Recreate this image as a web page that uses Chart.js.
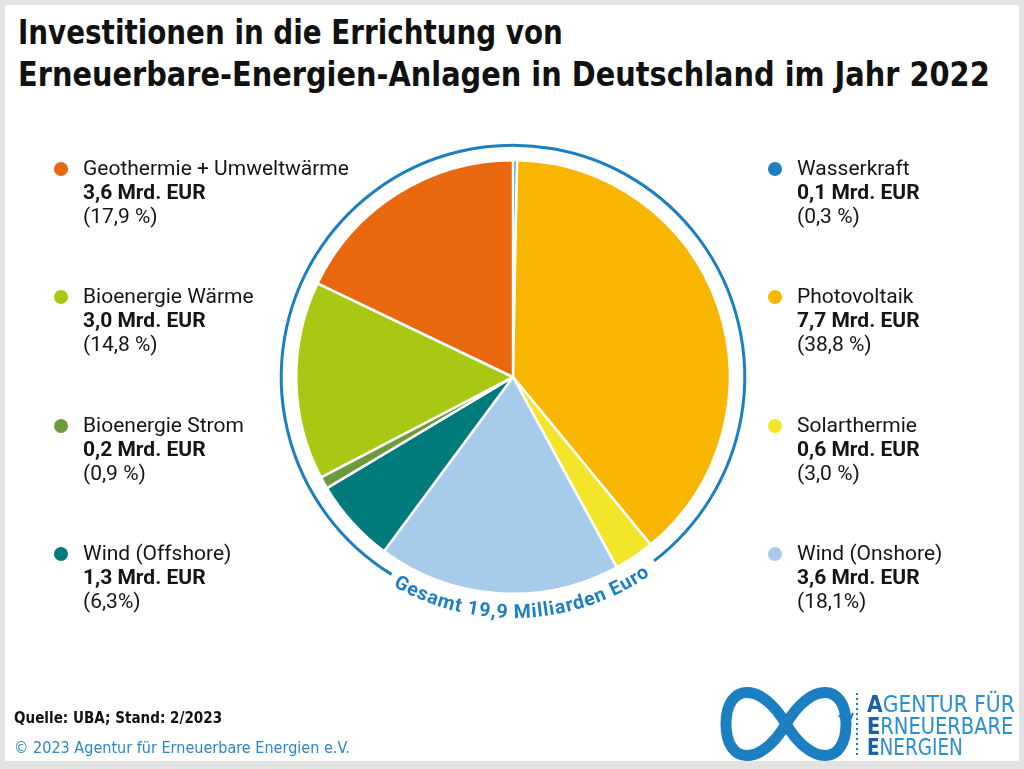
<!DOCTYPE html>
<html><head><meta charset="utf-8">
<script src="https://cdn.jsdelivr.net/npm/chart.js@4"></script>
<style>
html,body{margin:0;padding:0;}
body{width:1024px;height:769px;background:#e3e3e3;position:relative;overflow:hidden;font-family:Roboto,"Noto Sans",sans-serif;color:#151515;}
#frame{position:absolute;left:5px;top:5px;width:1014px;height:756px;background:#fff;}
.title{position:absolute;left:18px;font-family:"DejaVu Sans Condensed","DejaVu Sans",sans-serif;font-weight:bold;font-size:34px;line-height:40px;color:#111;white-space:nowrap;transform-origin:0 0;}
#pieBox{position:absolute;left:273px;top:137px;width:480px;height:480px;}
.leg{position:absolute;font-size:21px;line-height:24px;white-space:nowrap;}
.leg b{font-weight:bold;}
.dot{position:absolute;width:14px;height:14px;border-radius:50%;}
.fit{white-space:nowrap;transform-origin:0 0;}
#src{position:absolute;left:14px;top:708px;font-family:"DejaVu Sans Condensed",sans-serif;font-weight:bold;font-size:16px;color:#111;}
#copy{position:absolute;left:14px;top:738px;font-family:"DejaVu Sans Condensed",sans-serif;font-size:16px;color:#2a86c4;}
.logoLine{position:absolute;left:867px;font-family:"DejaVu Sans Condensed",sans-serif;font-size:23px;line-height:22px;color:#2a8fd0;}
.logoLine span{color:#1a62a8;font-weight:bold;}
svg{position:absolute;left:0;top:0;}
</style>
</head><body>
<div id="frame"></div>
<div class="title fit" id="t1" style="top:12px">Investitionen in die Errichtung von</div>
<div class="title fit" id="t2" style="top:54px">Erneuerbare-Energien-Anlagen in Deutschland im Jahr 2022</div>
<div id="pieBox"><canvas id="c" width="480" height="480"></canvas></div>
<svg width="1024" height="769" style="pointer-events:none">
  <defs><path id="arcPath" d="M 304.3 497.5 A 241 241 0 0 0 731.4 478.9" fill="none"/></defs>
  <text font-family="Roboto, 'Noto Sans', sans-serif" font-weight="bold" font-size="19.5" fill="#1b7fc1" letter-spacing="0.9">
    <textPath href="#arcPath" startOffset="50%" text-anchor="middle" id="totalText"></textPath>
  </text>
  <path d="M 786 724 C 812 680, 846 684, 846 724 C 846 764, 812 768, 786 724 C 760 680, 726 684, 726 724 C 726 764, 760 768, 786 724 Z" fill="none" stroke="#1b7fc1" stroke-width="11"/>
  <path d="M 839 715 L 847 727 L 853 713" fill="none" stroke="#1b7fc1" stroke-width="2"/>
  <line x1="857" y1="693" x2="857" y2="757" stroke="#1b7fc1" stroke-width="2" stroke-dasharray="2,3"/>
</svg>
<div id="legend"></div>
<div id="src" class="fit">Quelle: UBA; Stand: 2/2023</div>
<div id="copy" class="fit">© 2023 Agentur für Erneuerbare Energien e.V.</div>
<div class="logoLine fit" id="l1" style="top:693px"><span>A</span>GENTUR FÜR</div>
<div class="logoLine fit" id="l2" style="top:715px"><span>E</span>RNEUERBARE</div>
<div class="logoLine fit" id="l3" style="top:736px"><span>E</span>NERGIEN</div>
<script>
// ---- data ----
const categories = ["Wasserkraft","Photovoltaik","Solarthermie","Wind (Onshore)","Wind (Offshore)","Bioenergie Strom","Bioenergie Wärme","Geothermie + Umweltwärme"];
const shares = [0.3, 38.8, 3.0, 18.1, 6.3, 0.9, 14.8, 17.9];
const amountLabels = ["0,1 Mrd. EUR","7,7 Mrd. EUR","0,6 Mrd. EUR","3,6 Mrd. EUR","1,3 Mrd. EUR","0,2 Mrd. EUR","3,0 Mrd. EUR","3,6 Mrd. EUR"];
const shareLabels = ["(0,3 %)","(38,8 %)","(3,0 %)","(18,1%)","(6,3%)","(0,9 %)","(14,8 %)","(17,9 %)"];
const colors = ["#1b7fc1","#f8b600","#f3e52a","#a7cbea","#007b7c","#6c9a3c","#a9c813","#e8670f"];
const totalLabel = "Gesamt 19,9 Milliarden Euro";

// legend layout: [categoryIndex, column, row]
const legendPlaces = [[7,0,0],[6,0,1],[5,0,2],[4,0,3],[0,1,0],[1,1,1],[2,1,2],[3,1,3]];
const colDot = [61, 775], colText = [83, 797], rowY = [169, 297, 426, 554];

document.getElementById('totalText').textContent = totalLabel;
const legend = document.getElementById('legend');
legendPlaces.forEach(([i,c,r])=>{
  const d = document.createElement('div'); d.className='dot';
  d.style.left=(colDot[c]-7)+'px'; d.style.top=(rowY[r]-7)+'px'; d.style.background=colors[i];
  legend.appendChild(d);
  const t = document.createElement('div'); t.className='leg';
  t.style.left=colText[c]+'px'; t.style.top=(rowY[r]-13)+'px';
  t.innerHTML = categories[i]+'<br><b>'+amountLabels[i]+'</b><br>'+shareLabels[i];
  legend.appendChild(t);
});

// squeeze condensed texts to the reference widths
function fit(id, w){ const el=document.getElementById(id); el.style.transform='scaleX('+(w/el.offsetWidth)+')'; }
fit('t1', 545); fit('t2', 972); fit('src', 208); fit('copy', 336);
fit('l1', 148); fit('l2', 146); fit('l3', 96);

const ringPlugin = {
  id:'ring',
  afterDatasetsDraw(chart){
    const a = chart.getDatasetMeta(0).data[0];
    const ctx = chart.ctx;
    ctx.save();
    ctx.beginPath();
    ctx.arc(a.x, a.y, a.outerRadius + 15, 121.6*Math.PI/180, (52.5+360)*Math.PI/180);
    ctx.strokeStyle = '#1b7fc1'; ctx.lineWidth = 3; ctx.stroke();
    ctx.restore();
  }
};

new Chart(document.getElementById('c'), {
  type:'pie',
  data:{labels:categories, datasets:[{data:shares, backgroundColor:colors, borderColor:'#ffffff', borderWidth:2.5}]},
  options:{
    responsive:false, animation:false,
    layout:{padding:22},
    plugins:{legend:{display:false}, tooltip:{enabled:false}}
  },
  plugins:[ringPlugin]
});
</script>
</body></html>
